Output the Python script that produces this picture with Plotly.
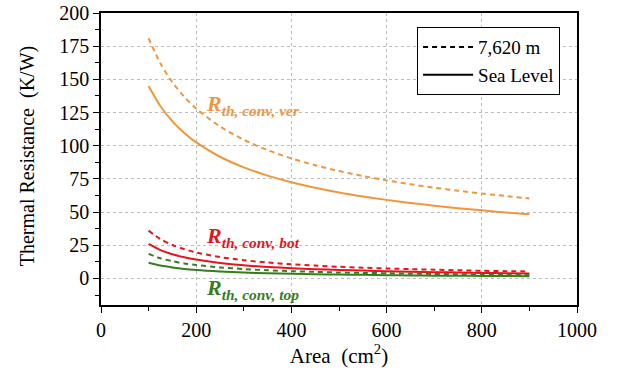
import plotly.graph_objects as go

area = [100, 125, 150, 175, 200, 250, 300, 350, 400, 450, 500, 550, 600, 650, 700, 750, 800, 850, 900]

ver_sea = [145, 129.7, 118.4, 109.6, 102.5, 91.7, 83.7, 77.5, 72.5, 68.4, 64.8, 61.8, 59.2, 56.9, 54.8, 52.9, 51.3, 49.7, 48.3]
ver_alt = [181, 161.9, 147.8, 136.8, 128.0, 114.5, 104.5, 96.7, 90.5, 85.3, 80.9, 77.2, 73.9, 71.0, 68.4, 66.1, 64.0, 62.1, 60.3]
bot_alt = [36, 29.6, 25.2, 22.1, 19.6, 16.1, 13.8, 12.0, 10.7, 9.7, 8.8, 8.1, 7.5, 7.0, 6.6, 6.2, 5.8, 5.5, 5.3]
bot_sea = [26, 21.4, 18.2, 15.9, 14.2, 11.7, 9.9, 8.7, 7.7, 7.0, 6.4, 5.9, 5.4, 5.1, 4.7, 4.5, 4.2, 4.0, 3.8]
top_alt = [18.5, 15.2, 13.0, 11.3, 10.1, 8.3, 7.1, 6.2, 5.5, 5.0, 4.5, 4.2, 3.9, 3.6, 3.4, 3.2, 3.0, 2.8, 2.7]
top_sea = [11.8, 9.7, 8.3, 7.2, 6.4, 5.3, 4.5, 3.9, 3.5, 3.2, 2.9, 2.7, 2.5, 2.3, 2.1, 2.0, 1.9, 1.8, 1.7]

ORANGE = "rgb(240,150,60)"
RED = "rgb(232,20,28)"
GREEN = "rgb(55,125,30)"
FONT = "Liberation Serif, Times New Roman, serif"
DASH = "5px,4px"

fig = go.Figure()

def add(y, color, dash):
    fig.add_trace(go.Scatter(x=area, y=y, mode="lines", line_shape="spline",
                             line=dict(color=color, width=2, dash=dash, smoothing=0.8),
                             showlegend=False, hoverinfo="skip"))

add(ver_alt, ORANGE, DASH)
add(ver_sea, ORANGE, "solid")
add(bot_alt, RED, DASH)
add(bot_sea, RED, "solid")
add(top_alt, GREEN, DASH)
add(top_sea, GREEN, "solid")

fig.add_trace(go.Scatter(x=[None], y=[None], mode="lines", name="7,620 m",
                         line=dict(color="black", width=2, dash=DASH)))
fig.add_trace(go.Scatter(x=[None], y=[None], mode="lines", name="Sea Level",
                         line=dict(color="black", width=2)))

def label(x, y, sub, color):
    fig.add_annotation(x=x, y=y, xref="x", yref="y", xanchor="left", yanchor="middle",
                       showarrow=False,
                       text=f"<b><i>R</i></b><sub><b><i>{sub}</i></b></sub>",
                       font=dict(family=FONT, size=22, color=color))

label(216, 131, "th, conv, ver", ORANGE)
label(216, 31, "th, conv, bot", RED)
label(216, -8, "th, conv, top", GREEN)

# y-axis title as rotated annotation to control its exact position
fig.add_annotation(x=-0.155, y=0.51, xref="paper", yref="paper",
                   xanchor="center", yanchor="middle", showarrow=False, textangle=-90,
                   text="Thermal Resistance  (K/W)",
                   font=dict(family=FONT, size=20, color="black"))

axis_common = dict(
    showline=True, linecolor="black", linewidth=1.5, mirror=True,
    ticks="outside", tickcolor="black", ticklen=6, tickwidth=1.2,
    showgrid=True, gridcolor="#bdbdbd", griddash="dot", gridwidth=1,
    zeroline=False, automargin=False,
    tickfont=dict(family=FONT, size=20, color="black"),
)

fig.update_xaxes(range=[0, 1000], dtick=200, tick0=0,
                 minor=dict(ticks="outside", dtick=100, ticklen=4, tickcolor="black", showgrid=False),
                 title=dict(text="Area  (cm<sup>2</sup>)", font=dict(family=FONT, size=21, color="black"), standoff=8),
                 **axis_common)
fig.update_yaxes(range=[-20, 200], dtick=25, tick0=0,
                 minor=dict(ticks="outside", dtick=12.5, ticklen=4, tickcolor="black", showgrid=False),
                 **axis_common)

fig.update_layout(
    width=618, height=377,
    margin=dict(l=101, r=41, t=13, b=72),
    plot_bgcolor="white", paper_bgcolor="white",
    legend=dict(x=0.964, y=0.952, xanchor="right", yanchor="top",
                bgcolor="white", bordercolor="black", borderwidth=1.2,
                font=dict(family=FONT, size=19, color="black"),
                tracegroupgap=0, itemwidth=50),
    font=dict(family=FONT),
)

fig.write_html("out.html")
